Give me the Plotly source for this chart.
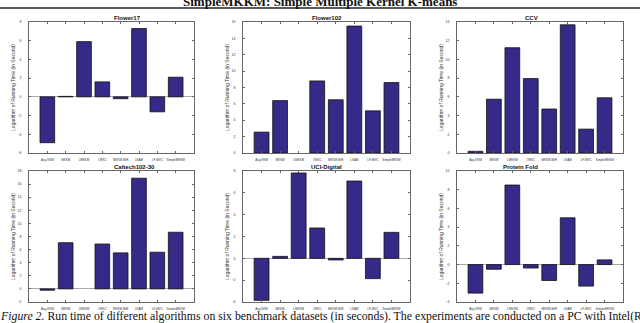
import plotly.graph_objs as go
from plotly.subplots import make_subplots

methods = ["Avg-KKM", "MKKM", "LMKKM", "ONKC", "MKKM-MiR", "LKAM", "LF-MVC", "SimpleMKKM"]

datasets = ["Flower17", "Flower102", "CCV", "Caltech102-30", "UCI-Digital", "Protein Fold"]

flower17 = [-4.9, 0.05, 5.9, 1.6, -0.2, 7.3, -1.6, 2.1]
flower102 = [2.55, 6.4, None, 8.8, 6.5, 15.5, 5.15, 8.6]
ccv = [0.18, 5.75, 11.25, 7.95, 4.7, 13.7, 2.55, 5.9]
caltech = [-0.2, 7.05, None, 6.85, 5.5, 16.9, 5.6, 8.65]
uci_digital = [-3.85, 0.18, 7.82, 2.78, -0.15, 7.08, -1.86, 2.38]
protein_fold = [-3.05, -0.5, 8.5, -0.37, -1.7, 5.0, -2.3, 0.5]

y_ranges = [(-6, 8), (0, 16), (0, 14), (-2, 18), (-4, 8), (-4, 10)]
y_steps = [2, 2, 2, 2, 2, 2]

main_title = "SimpleMKKM: Simple Multiple Kernel K-means"
caption = ("<i>Figure 2.</i> Run time of different algorithms on six benchmark datasets "
           "(in seconds). The experiments are conducted on a PC with Intel(R)")
y_label = "Logarithm of Running Time (in Second)"

W, H = 640, 323
cols_px = [(29, 194), (243, 410), (457, 623)]
rows_px = [(22, 153), (171, 302)]
bar_color = "#352A87"

fig = make_subplots(rows=2, cols=3)
all_values = [flower17, flower102, ccv, caltech, uci_digital, protein_fold]

for i, vals in enumerate(all_values):
    r, c = i // 3, i % 3
    fig.add_trace(
        go.Bar(x=methods, y=vals, width=0.8,
               marker=dict(color=bar_color, line=dict(color="#111111", width=0.8)),
               showlegend=False),
        row=r + 1, col=c + 1
    )
    x0, x1 = cols_px[c]
    y0, y1 = rows_px[r]
    ax = "" if i == 0 else str(i + 1)
    lo, hi = y_ranges[i]
    fig.layout["xaxis" + ax].update(
        domain=[x0 / W, x1 / W], range=[-1, 8], showline=True, mirror="ticks",
        linecolor="#666666", linewidth=0.8, ticks="inside", ticklen=2,
        tickcolor="#666666", tickfont=dict(size=3, family="Arial", color="#333333"),
        tickangle=0, showgrid=False, automargin=False, fixedrange=True,
        ticklabelstandoff=3
    )
    fig.layout["yaxis" + ax].update(
        domain=[1 - y1 / H, 1 - y0 / H], range=[lo, hi], dtick=y_steps[i],
        tick0=0, showline=True, mirror="ticks", linecolor="#666666",
        linewidth=0.8, ticks="inside", ticklen=2, tickcolor="#666666",
        tickfont=dict(size=3.5, family="Arial", color="#333333"),
        showgrid=False, zeroline=True, zerolinecolor="#aaaaaa",
        zerolinewidth=0.8, automargin=False, ticklabelstandoff=6,
        title=dict(text=y_label, font=dict(size=5, family="Arial", color="#333333"),
                   standoff=1)
    )
    fig.add_annotation(
        text="<b>" + datasets[i] + "</b>", xref="paper", yref="paper",
        x=(x0 + x1) / 2 / W, y=1 - (y0 - 4) / H, showarrow=False,
        font=dict(size=6, family="Arial", color="#111111"), yanchor="middle"
    )

fig.add_annotation(
    text="<b>" + main_title + "</b>", xref="paper", yref="paper",
    x=0.5, y=1 - 1 / H, showarrow=False, yanchor="middle",
    font=dict(size=13, family="Liberation Serif", color="#111111")
)
fig.add_shape(type="line", xref="paper", yref="paper", x0=0, x1=1,
              y0=1 - 8 / H, y1=1 - 8 / H, line=dict(color="#222222", width=1.4))
fig.add_annotation(
    text=caption, xref="paper", yref="paper", x=-2 / W, y=1 - 316 / H,
    showarrow=False, xanchor="left", yanchor="middle",
    font=dict(size=11.8, family="Liberation Serif", color="#111111")
)

fig.update_layout(
    width=W, height=H, margin=dict(l=0, r=0, t=0, b=0),
    paper_bgcolor="white", plot_bgcolor="white", bargap=0.2
)

# page has a default body margin; drop it so the figure sits at the corner
fig.write_html("out.html", config={"displayModeBar": False},
               post_script="document.body.style.margin='0';")
